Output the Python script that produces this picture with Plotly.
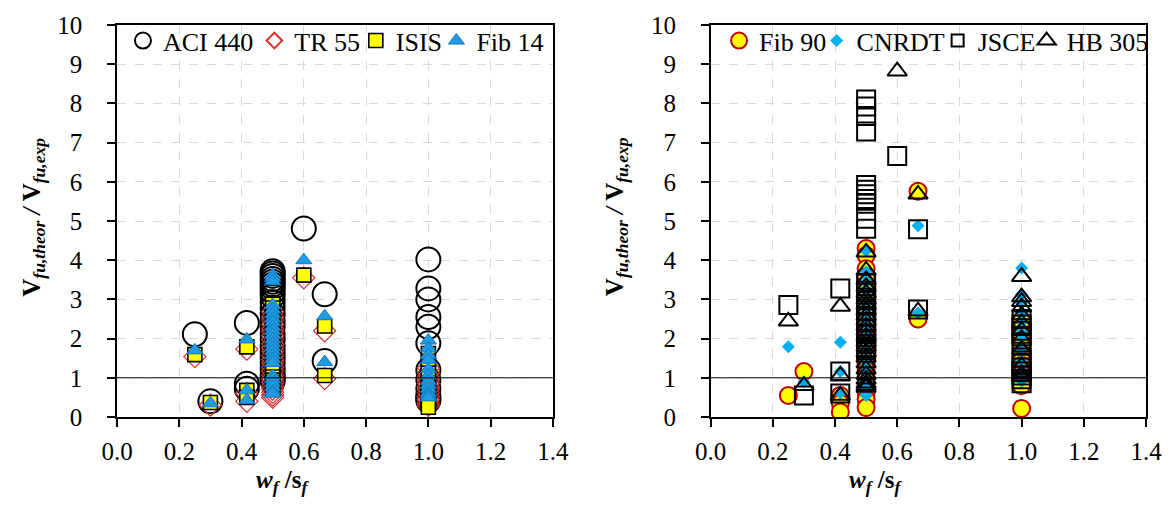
import plotly.graph_objects as go

# ---- data: w_f/s_f groups and V_fu,theor / V_fu,exp ratios per group ----
x_groups = [0.25, 0.30, 0.417, 0.50, 0.60, 0.667, 1.00]

aci_440 = [[2.11], [0.40], [2.40, 0.85, 0.72],
           [3.72, 3.66, 3.60, 3.52, 3.45, 3.38, 3.30, 3.20, 3.08, 2.93, 2.78, 2.62,
            2.44, 2.30, 2.12, 1.97, 1.80, 1.66, 1.52, 1.38, 1.22, 1.08, 0.98, 0.92],
           [4.81], [3.13, 1.43],
           [4.02, 3.28, 3.00, 2.55, 2.30, 1.88, 1.20, 0.95, 0.72, 0.55, 0.48, 0.42]]
tr_55 = [[1.54], [0.30], [1.73, 0.60, 0.40],
         [2.68, 2.55, 2.47, 2.36, 2.25, 2.18, 2.07, 1.98, 1.86, 1.77, 1.68, 1.57,
          1.46, 1.38, 1.27, 1.18, 1.06, 0.97, 0.88, 0.80, 0.71, 0.63, 0.56, 0.50],
         [3.55], [2.20, 0.98],
         [1.25, 1.12, 1.02, 0.95, 0.86, 0.78, 0.70, 0.62, 0.52, 0.44, 0.36, 0.30]]
isis = [[1.59], [0.37], [1.79, 0.68, 0.50],
        [2.88, 2.78, 2.66, 2.57, 2.44, 2.32, 2.20, 2.12, 2.00, 1.90, 1.78, 1.68,
         1.58, 1.48, 1.38, 1.28, 1.20, 1.12, 1.02, 0.94, 0.88, 0.82, 0.76, 0.70],
        [3.62], [2.32, 1.06],
        [1.62, 1.42, 1.30, 1.12, 1.00, 0.86, 0.76, 0.66, 0.56, 0.46, 0.36, 0.25]]
fib_14 = [[1.70], [0.35], [1.98, 0.68, 0.43],
          [3.62, 3.55, 3.46, 2.86, 2.74, 2.62, 2.51, 2.42, 2.30, 2.20, 2.10, 1.98,
           1.88, 1.78, 1.68, 1.58, 1.48, 1.38, 1.05, 0.96, 0.86, 0.76, 0.66, 0.60],
          [4.00], [2.57, 1.40],
          [1.95, 1.75, 1.58, 1.46, 1.22, 1.06, 0.92, 0.82, 0.72, 0.62, 0.56, 0.50]]

fib_90 = [[0.55], [1.16], [0.55, 0.35, 0.13],
          [4.30, 4.12, 3.78, 3.58, 3.38, 3.20, 3.04, 2.88, 2.74, 2.60, 2.45, 2.30,
           2.15, 2.00, 1.86, 1.70, 1.52, 1.36, 1.20, 1.02, 0.86, 0.62, 0.45, 0.24],
          [], [5.76, 2.50],
          [2.45, 2.12, 1.82, 1.62, 1.44, 1.32, 1.20, 1.10, 1.00, 0.90, 0.80, 0.22]]
cnrdt = [[1.79], [0.89], [1.91, 1.16, 0.62],
         [4.24, 3.70, 3.46, 3.26, 3.10, 2.95, 2.80, 2.66, 2.52, 2.40, 2.26, 2.12,
          1.98, 1.85, 1.70, 1.56, 1.40, 1.26, 1.10, 0.96, 0.84, 0.74, 0.64, 0.55],
         [], [4.88, 2.65],
         [3.80, 3.12, 2.90, 2.62, 2.42, 2.22, 2.02, 1.72, 1.42, 1.20, 1.02, 0.92]]
jsce = [[2.86], [0.55], [3.28, 1.16, 0.60],
        [8.10, 7.92, 7.68, 7.28, 5.92, 5.80, 5.68, 5.56, 5.44, 5.06, 4.80, 3.42,
         3.22, 3.04, 2.88, 2.72, 2.56, 2.42, 2.26, 2.12, 1.98, 1.86, 1.76, 1.70],
        [6.66], [4.79, 2.74],
        [2.50, 2.36, 2.20, 2.06, 1.90, 1.52, 1.36, 1.26, 1.16, 1.06, 0.96, 0.86]]
hb_305 = [[2.44], [0.80], [2.82, 1.06, 0.55],
          [4.20, 3.74, 3.50, 3.32, 3.16, 3.00, 2.86, 2.72, 2.58, 2.46, 2.32, 2.20,
           2.06, 1.92, 1.80, 1.66, 1.52, 1.38, 1.22, 1.08, 0.96, 0.86, 0.80, 0.75],
          [8.82], [5.68, 2.70],
          [3.58, 3.06, 2.94, 2.80, 2.60, 2.40, 2.20, 2.00, 1.72, 1.30, 1.10, 1.02]]

x_ticks = [0.0, 0.2, 0.4, 0.6, 0.8, 1.0, 1.2, 1.4]
y_ticks = list(range(0, 11))


def flat(groups):
    xs, ys = [], []
    for xg, vals in zip(x_groups, groups):
        for v in vals:
            xs.append(xg)
            ys.append(v)
    return xs, ys


FONT = "Liberation Serif"
fig = go.Figure()

# (name, data, marker, axis suffix, legend-left position (paper), legend item sizing)
series = [
    ("ACI 440", aci_440, dict(symbol="circle", size=24, color="rgba(0,0,0,0)",
                              line=dict(color="black", width=2)), "", 0.0058, "trace"),
    ("TR 55", tr_55, dict(symbol="diamond", size=17, color="rgba(0,0,0,0)",
                          line=dict(color="#d8302b", width=1.2)), "", 0.1335, "constant"),
    ("ISIS", isis, dict(symbol="square", size=14, color="#ffff00",
                        line=dict(color="black", width=1.6)), "", 0.2321, "trace"),
    ("Fib 14", fib_14, dict(symbol="triangle-up", size=14, color="#1f9be3",
                            line=dict(color="#1479c2", width=1)), "", 0.3104, "trace"),
    ("Fib 90", fib_90, dict(symbol="circle", size=17, color="#ffff00",
                            line=dict(color="#c00000", width=2)), "2", 0.5851, "trace"),
    ("CNRDT", cnrdt, dict(symbol="diamond", size=10, color="#00b0f0",
                          line=dict(width=0)), "2", 0.6799, "trace"),
    ("JSCE", jsce, dict(symbol="square", size=18, color="rgba(0,0,0,0)",
                        line=dict(color="black", width=2)), "2", 0.7975, "constant"),
    ("HB 305", hb_305, dict(symbol="triangle-up", size=17, color="rgba(0,0,0,0)",
                            line=dict(color="black", width=2)), "2", 0.8840, "trace"),
]

legend_layout = {}
for i, (name, data, mk, ax, lx, sizing) in enumerate(series):
    xs, ys = flat(data)
    lname = "legend" if i == 0 else f"legend{i + 1}"
    fig.add_trace(go.Scatter(x=xs, y=ys, mode="markers", name=name, marker=mk,
                             xaxis="x" + ax, yaxis="y" + ax, legend=lname))
    legend_layout[lname] = dict(orientation="h", x=lx, xanchor="left", y=1.02,
                                yanchor="top", bgcolor="rgba(0,0,0,0)",
                                font=dict(family=FONT, size=26, color="black"),
                                itemwidth=30, itemsizing=sizing)

axis_common = dict(showline=True, linecolor="black", linewidth=1.5, mirror=True,
                   ticks="outside", ticklen=8, tickcolor="black", tickwidth=1.5,
                   showgrid=True, gridcolor="#d9d9d9", griddash="dash", gridwidth=1,
                   zeroline=False, tickfont=dict(family=FONT, size=25, color="black"))

xdict = dict(range=[0, 1.4], tickvals=x_ticks, ticktext=[f"{v:.1f}" for v in x_ticks],
             ticklabelstandoff=3, **axis_common)
ydict = dict(range=[0, 10], tickvals=y_ticks, ticklabelstandoff=20, **axis_common)

fig.update_layout(
    width=1174, height=506,
    margin=dict(l=117, r=23, t=20, b=89),
    plot_bgcolor="white", paper_bgcolor="white",
    font=dict(family=FONT, color="black"),
    xaxis=dict(domain=[0, 0.4236], anchor="y", **xdict),
    yaxis=dict(domain=[0, 1], anchor="x", **ydict),
    xaxis2=dict(domain=[0.5769, 1], anchor="y2", **xdict),
    yaxis2=dict(domain=[0, 1], anchor="x2", **ydict),
    showlegend=True,
    **legend_layout,
)

# reference line at ratio = 1
for xr, yr in [("x domain", "y"), ("x2 domain", "y2")]:
    fig.add_shape(type="line", xref=xr, yref=yr, x0=0, x1=1, y0=1, y1=1,
                  line=dict(color="black", width=1), layer="above")

ytitle = ("<b>V<sub><i>fu,theor</i></sub></b><b><i> / </i></b>"
          "<b>V<sub><i>fu,exp</i></sub></b>")
xtitle = "<b><i>w</i><sub><i>f</i></sub> /s<sub><i>f</i></sub></b>"

for xpos in [-0.082, 0.485]:
    fig.add_annotation(text=ytitle, xref="paper", yref="paper", x=xpos, y=0.51,
                       textangle=-90, showarrow=False, xanchor="center", yanchor="middle",
                       font=dict(family=FONT, size=25, color="black"))
for xr in ["x", "x2"]:
    fig.add_annotation(text=xtitle, xref=xr, yref="paper", x=0.53, y=-0.165,
                       showarrow=False, xanchor="center", yanchor="middle",
                       font=dict(family=FONT, size=25, color="black"))

fig.write_html("out.html")
